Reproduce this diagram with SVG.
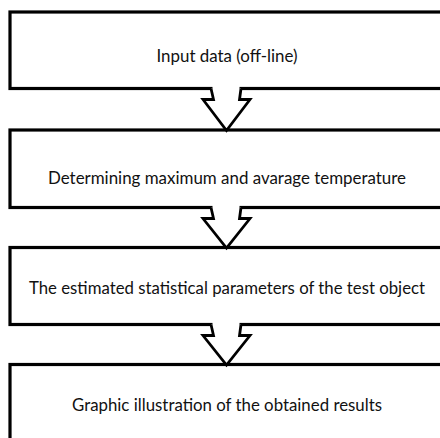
<svg xmlns="http://www.w3.org/2000/svg" width="440" height="438" viewBox="0 0 440 438">
<style>
.box{fill:#fff;stroke:#000;stroke-width:3.2}
.lbl{font-family:Lato,"Open Sans","Liberation Sans",sans-serif;font-size:18px;fill:#111;text-anchor:middle}
.cover{fill:#fff;stroke:none}
.arr{fill:#fff;stroke:#000;stroke-width:2.8;stroke-linejoin:miter}
</style>
<rect width="440" height="438" fill="#fff"/>
<g id="node1"><rect class="box" x="10" y="12" width="434" height="76.5"/><text class="lbl" x="227" y="62" textLength="141" lengthAdjust="spacingAndGlyphs">Input data (off-line)</text></g>
<g id="node2"><rect class="box" x="10" y="130" width="434" height="77.5"/><text class="lbl" x="227" y="184" textLength="358" lengthAdjust="spacingAndGlyphs">Determining maximum and avarage temperature</text></g>
<g id="node3"><rect class="box" x="10" y="247.5" width="434" height="77"/><text class="lbl" x="227" y="294" textLength="396" lengthAdjust="spacingAndGlyphs">The estimated statistical parameters of the test object</text></g>
<g id="node4"><rect class="box" x="10" y="364.5" width="434" height="100"/><text class="lbl" x="227" y="410.5" textLength="310" lengthAdjust="spacingAndGlyphs">Graphic illustration of the obtained results</text></g>
<g id="connectors">
<rect class="cover" x="212.5" y="86" width="27" height="5"/>
<path class="arr" d="M211 88.5 L213.5 99.5 L203 99.5 L226.5 130.5 L250 99.5 L239.5 99.5 L241 88.5"/>
<rect class="cover" x="212.5" y="205" width="27" height="5"/>
<path class="arr" d="M211 207.5 L213.5 218.5 L203 218.5 L226.5 248 L250 218.5 L239.5 218.5 L241 207.5"/>
<rect class="cover" x="212.5" y="322" width="27" height="5"/>
<path class="arr" d="M211 324.5 L213.5 335.5 L203 335.5 L226.5 365 L250 335.5 L239.5 335.5 L241 324.5"/>
</g>
</svg>
